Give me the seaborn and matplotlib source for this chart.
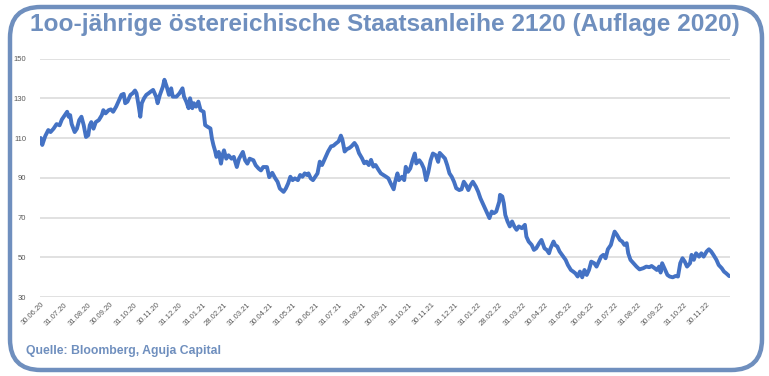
import pandas as pd
import matplotlib
matplotlib.use("Agg")
import matplotlib.pyplot as plt
import matplotlib.dates as mdates
from matplotlib.patches import FancyBboxPatch
import seaborn as sns

# Kurs der 100-jaehrigen Anleihe
# Tage seit 30.06.2020 und Kurs
start_date = "2020-06-30"
days = [0, 2, 4, 6, 10, 13, 17, 21, 25, 28, 32, 35, 37, 39, 41, 45, 48, 51, 54, 57,
        60, 63, 65, 67, 70, 73, 77, 81, 83, 86, 90, 93, 96, 100, 103, 107, 110, 112, 115, 119,
        122, 125, 127, 130, 132, 134, 137, 140, 143, 146, 149,
        153, 155, 158, 162, 164, 167, 170, 173, 175, 180, 184, 188, 190, 193, 196, 198, 201, 203,
        206, 209, 212, 216, 218, 221, 225, 227, 229, 231, 233, 236, 239, 241, 243, 246, 249, 253,
        256, 260, 263, 268, 271, 274, 277, 282, 285, 289, 292, 295, 300, 303,
        307, 311, 314, 317, 322, 325, 328, 331, 334, 337, 341, 344, 347, 350, 353, 355, 358, 361,
        364, 367, 370, 373, 377, 381, 385, 388, 391, 395, 398, 400, 403, 406, 409, 412, 416, 419,
        422, 426, 429, 432, 435, 438, 441, 444, 448, 451,
        458, 461, 464, 468, 470, 473, 475, 479, 482, 484, 487, 490, 493, 496, 498, 502, 505, 508,
        511, 514, 517, 520, 524, 527, 529, 532, 536, 539, 542, 545, 548, 551, 555, 558, 561, 564,
        567, 570, 573, 577, 580, 583, 586, 589, 592, 595, 598, 601, 604,
        608, 609, 612, 614, 616, 619, 622, 625, 628, 631, 634, 638, 642, 644, 647, 651, 654, 657,
        661, 664, 668, 671, 674, 676, 680, 682, 685, 688, 693, 696, 699, 703, 706, 709, 712, 715,
        718, 721, 724, 727, 730, 734, 737, 740, 743, 746, 749, 752, 756, 759, 761,
        764, 768, 771, 774, 777, 779, 782, 786, 790, 794, 799, 803, 807, 810, 814, 817, 820, 822,
        824, 827, 831, 834, 838, 842, 845, 848, 851, 854, 857, 861, 863, 866, 869, 873, 876, 879,
        883, 886, 889, 892, 896, 899, 903, 906, 909, 913]
kurs = [110, 106.5, 108.8, 111, 114, 113, 114.7, 117, 116.4, 119.3, 121.5, 123.2, 120.7, 121.5, 117, 113, 114.7, 119, 120.7, 116.4,
        110.5, 111.4, 116.4, 118, 114.7, 118, 119, 121.5, 124, 122.4, 124, 124.4, 123.2, 125.8, 128.3, 131.7, 132.2, 127.5, 128.3, 131.7,
        132.5, 133.9, 132.5, 125.8, 120.7, 127.5, 130, 131.7, 132.5, 133.4, 134.2,
        130.8, 127.5, 131.7, 135.9, 139.3, 135.9, 131.7, 135, 130.8, 130.8, 132.5, 135, 130.8, 128.3, 125, 130, 125, 127.5,
        125.8, 128.3, 124, 123.2, 116.5, 115.7, 114.8, 109.7, 106.4, 103.8, 100.5, 103, 97.1, 101.3, 103.8, 99.6, 101.3, 99.6,
        100.5, 95.4, 99.6, 103, 98.8, 97.1, 99.6, 98.8, 96.3, 94.6, 93.7, 95.4, 95.4, 90.3,
        92.5, 89.7, 88, 84.6, 82.9, 84.6, 87.1, 90.5, 88.8, 89.7, 88.8, 91.4, 90.5, 92.2, 91.4, 92.2, 89.7, 88.8,
        90.5, 92.2, 98.1, 96.4, 99.8, 103.2, 105.8, 106.1, 107.1, 108.3, 111.2, 109.2, 103.2, 104.4, 104.9, 105.8, 107.5, 105.8,
        102.4, 99.8, 97.3, 98.1, 96.4, 99, 95.6, 96.4, 93.9, 92.2,
        90.5, 89.7, 87.2, 84.2, 88, 92.2, 88.8, 90.5, 88.8, 95.5, 93, 94.7, 98.8, 102.2, 97.2, 98.8, 97.2, 94.7,
        88.8, 93, 98.8, 102.2, 101.3, 98, 102.5, 101.3, 99.7, 96.3, 92.2, 90.5, 88, 84.7, 83.8, 84.2, 88, 86.3,
        83.8, 86.3, 88, 85.5, 83, 79.7, 77.2, 74.7, 72.2, 69.7, 73, 72.2, 73,
        78, 81.4, 80.6, 77.2, 71.3, 68, 65.5, 68, 65.5, 63.8, 65.5, 64.6, 66.3, 60.4, 57.9, 56.2, 53.7, 54.5,
        57.1, 58.7, 54.5, 53.7, 52, 54.5, 57.9, 56.2, 55.4, 52.9, 50.3, 48.7, 46.1, 43.6, 42.8, 41.9, 40.3, 42.8,
        39.9, 43.6, 41.1, 43.6, 47.8, 47, 45.3, 47.8, 50.3, 51.2, 49.5, 54, 56.2, 60.4, 62.9,
        61.3, 58.7, 57.9, 56.2, 57.1, 52, 48.7, 47, 45.3, 43.9, 44.5, 45.3, 45, 45.6, 44.5, 43.6, 45.3, 42.3,
        47, 44.5, 41.1, 40.3, 39.9, 40.6, 40.3, 47, 49.5, 47.8, 45.3, 47, 51.2, 48.7, 52, 50.3, 52, 50.3,
        52.9, 54, 52.9, 51.2, 48.7, 46.1, 44.5, 42.8, 41.9, 40.5]

y_ticks = [30, 50, 70, 90, 110, 130, 150]
title = "1oo-jährige östereichische Staatsanleihe 2120 (Auflage 2020)"
source = "Quelle: Bloomberg, Aguja Capital"

blue_frame = "#6f8fbe"
line_blue = "#4472c4"
tick_grey = "#595959"

df = pd.DataFrame({
    "datum": pd.Timestamp(start_date) + pd.to_timedelta(days, unit="D"),
    "kurs": kurs,
})

sns.set_theme(style="whitegrid")
plt.rcParams["font.family"] = ["Liberation Sans", "DejaVu Sans"]

fig = plt.figure(figsize=(7.69, 3.76), dpi=100)
ax = fig.add_axes([0.052, 0.2101, 0.8973, 0.6343])

sns.lineplot(data=df, x="datum", y="kurs", ax=ax, color=line_blue, linewidth=2.8)

ax.set_ylim(30, 150)
ax.set_yticks(y_ticks)
ax.set_xlim(pd.Timestamp("2020-06-29"), pd.Timestamp("2022-12-31"))
month_ends = pd.date_range("2020-06-30", "2022-11-30", freq="ME")
ax.set_xticks(month_ends)
ax.xaxis.set_major_formatter(mdates.DateFormatter("%d.%m.%y"))

ax.grid(axis="y", color="#d9d9d9", linewidth=1.1)
ax.grid(axis="x", visible=False)
for s in ax.spines.values():
    s.set_visible(False)
ax.set_xlabel("")
ax.set_ylabel("")
ax.tick_params(axis="y", labelsize=5.5, labelcolor=tick_grey, length=0, pad=10)
ax.tick_params(axis="x", labelsize=5.5, labelcolor=tick_grey, length=0, pad=3)
for lbl in ax.get_xticklabels():
    lbl.set_rotation(45)
    lbl.set_ha("right")
    lbl.set_rotation_mode("anchor")

# Rahmen mit runden Ecken
frame = FancyBboxPatch((10 / 769, 6 / 376), 752 / 769, 363 / 376,
                       boxstyle="round,pad=0,rounding_size=0.04",
                       transform=fig.transFigure, fill=False,
                       edgecolor=blue_frame, linewidth=3.2, mutation_aspect=769 / 376)
fig.patches.append(frame)

fig.text(0.5, 1 - 24 / 376, title, ha="center", va="center", fontsize=17.6,
         fontweight="heavy", color=blue_frame)
fig.text(26 / 769, 1 - 351 / 376, source, ha="left", va="center", fontsize=8.8,
         fontweight="bold", color=blue_frame)

fig.savefig("out.png", dpi=100)
